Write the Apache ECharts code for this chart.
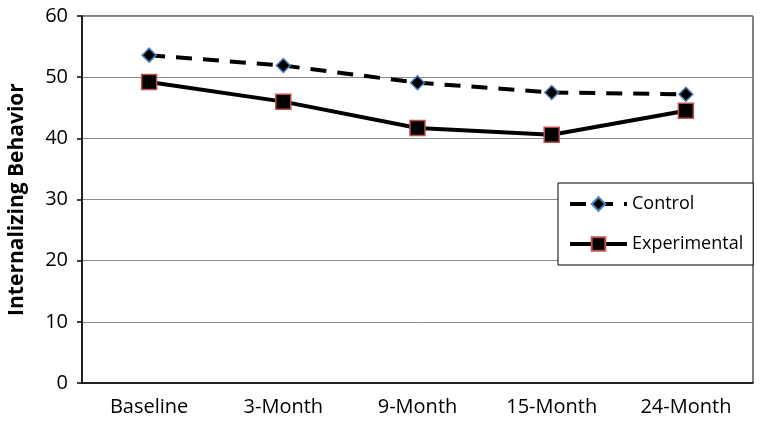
<!DOCTYPE html>
<html>
<head>
<meta charset="utf-8">
<script src="https://cdn.jsdelivr.net/npm/echarts@6/dist/echarts.min.js"></script>
<style>
  html, body { margin: 0; padding: 0; background: #fff; }
  #chart { width: 764px; height: 423px; }
</style>
</head>
<body>
<div id="chart"></div>
<script>
// values
const categories = ["Baseline", "3-Month", "9-Month", "15-Month", "24-Month"];
const control = [53.6, 51.9, 49.1, 47.5, 47.2];
const experimental = [49.2, 46.0, 41.7, 40.6, 44.5];
const yTicks = { min: 0, max: 60, interval: 10 };

const font = "Open Sans";

const myChart = echarts.init(document.getElementById("chart"));
myChart.setOption({
  animation: false,
  grid: {
    left: 82,
    right: 11,
    top: 16,
    bottom: 40,
    outerBoundsMode: "none",
    show: true,
    borderColor: "#000",
    borderWidth: 1,
  },
  legend: {
    orient: "vertical",
    left: 558,
    top: 183,
    padding: [12, 10, 12, 10],
    itemGap: 22,
    itemWidth: 57,
    itemHeight: 17,
    backgroundColor: "#fff",
    borderColor: "#000",
    borderWidth: 1,
    lineStyle: { width: 4 },
    textStyle: { fontFamily: font, fontSize: 18, color: "#000" },
    data: ["Control", "Experimental"],
  },
  xAxis: {
    type: "category",
    data: categories,
    boundaryGap: true,
    axisLine: { lineStyle: { color: "#000", width: 1.5 } },
    axisTick: { length: 6, lineStyle: { color: "#000", width: 1.5 } },
    axisLabel: { fontFamily: font, fontSize: 20, color: "#000", margin: 14 },
  },
  yAxis: {
    type: "value",
    min: yTicks.min,
    max: yTicks.max,
    interval: yTicks.interval,
    name: "Internalizing Behavior",
    nameLocation: "middle",
    nameGap: 54,
    nameTextStyle: { fontFamily: font, fontSize: 21, fontWeight: "bold", color: "#000" },
    axisLine: { show: true, lineStyle: { color: "#000", width: 1.5 } },
    axisTick: { show: true, length: 5, lineStyle: { color: "#000", width: 1.5 } },
    axisLabel: { fontFamily: font, fontSize: 20, color: "#000", margin: 14 },
    splitLine: { lineStyle: { color: "#8c8c8c", width: 1 } },
  },
  series: [
    {
      name: "Control",
      type: "line",
      data: control,
      symbol: "diamond",
      symbolSize: 14,
      lineStyle: { color: "#000", width: 4, type: [16, 11] },
      itemStyle: { color: "#000", borderColor: "#4f81bd", borderWidth: 1.5 },
      z: 3,
    },
    {
      name: "Experimental",
      type: "line",
      data: experimental,
      symbol: "rect",
      symbolSize: 15,
      lineStyle: { color: "#000", width: 4 },
      itemStyle: { color: "#000", borderColor: "#c0504d", borderWidth: 1.5 },
      z: 4,
    },
  ],
});
</script>
</body>
</html>
